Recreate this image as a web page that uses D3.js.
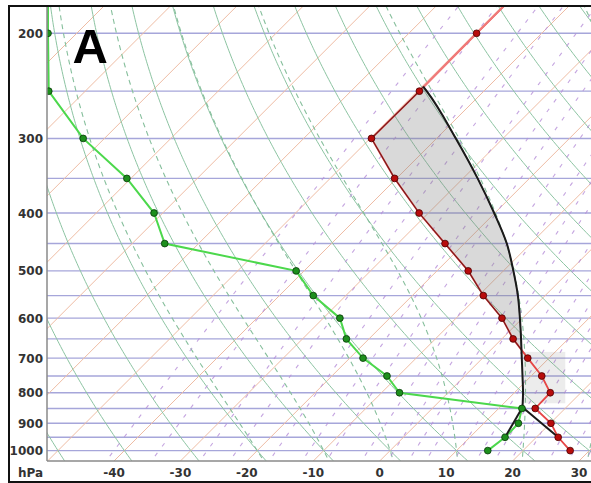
<!DOCTYPE html>
<html>
<head>
<meta charset="utf-8">
<script src="https://cdn.jsdelivr.net/npm/d3@7"></script>
<style>
  body { margin: 0; background: #fff; }
  svg { display: block; }
</style>
</head>
<body>
<div id="chart"></div>
<script>
const width = 591;
const height = 483;

// sounding (hPa, degC)
const pressures   = [150, 200, 250, 300, 350, 400, 450, 500, 550, 600, 650, 700, 750, 800, 850, 900, 950, 1000];
const temperature = [-49.8, -49.8, -49.7, -49.8, -40.3, -31.4, -22.9, -15.3, -9.3, -3.1, 1.7, 6.8, 11.6, 15.4, 15.5, 20.1, 23.3, 27.1];
const dewpoint    = [-126, -114.5, -105.5, -93.2, -80.6, -71.3, -65.1, -41.2, -34.9, -27.5, -23.4, -18.0, -11.7, -7.3, 13.5, 15.2, 15.3, 14.7];

// lifted parcel (950 hPa start, LCL ~846 hPa, EL ~246 hPa)
const parcelPressures = [950, 846, 800, 750, 700, 650, 600, 550, 500, 450, 400, 350, 300, 250, 245.7];
const parcelTemps     = [23.3, 13.4, 11.3, 8.7, 5.9, 2.9, -0.4, -4.1, -8.5, -13.6, -20.1, -27.8, -37.1, -48.6, -49.8];
const parcelDewP = [950, 846];
const parcelDewT = [15.3, 13.4];

// background lines
const isobarLevels   = d3.range(200, 1001, 50);
const pressureLabels = [200, 300, 400, 500, 600, 700, 800, 900, 1000];
const tempTicks      = [-40, -30, -20, -10, 0, 10, 20, 30];
const isotherms      = d3.range(-130, 60, 10);
const dryAdiabats    = d3.range(-60, 220, 10);   // theta, degC
const moistAdiabats  = [-20, -10, 0, 10, 20, 30, 40]; // theta-w, degC
const mixingRatios   = [0.1, 0.2, 0.4, 0.6, 1, 1.5, 2, 3, 4, 5, 6, 8, 10, 12, 14, 16, 20, 24, 28, 32];

const plot = { left: 47, top: 6, right: 600, bottom: 461 };

const svg = d3.select("#chart").append("svg")
    .attr("width", width)
    .attr("height", height);

svg.append("rect").attr("width", width).attr("height", height).attr("fill", "#fff");

const y = d3.scaleLog().domain([200, 1000]).range([33.3, 450.6]);
const x = d3.scaleLinear().domain([-40, 30]).range([114, 579]);
const skewX = (t, p) => x(t) + (plot.bottom - y(p));

svg.append("clipPath").attr("id", "clip")
  .append("rect")
    .attr("x", plot.left).attr("y", plot.top)
    .attr("width", plot.right - plot.left).attr("height", plot.bottom - plot.top);

const g = svg.append("g").attr("clip-path", "url(#clip)");

const line = d3.line().x(d => d[0]).y(d => d[1]);
const smooth = d3.line().x(d => d[0]).y(d => d[1]).curve(d3.curveMonotoneY);

// pressures used for drawing curves
const pGrid = d3.range(Math.log(1060), Math.log(165), -0.01).map(Math.exp);

// isobars
g.selectAll(".isobar").data(isobarLevels).enter().append("line")
    .attr("x1", plot.left).attr("x2", plot.right)
    .attr("y1", d => y(d)).attr("y2", d => y(d))
    .attr("stroke", "#a6a6da").attr("stroke-width", 1.4);

// isotherms
g.selectAll(".isotherm").data(isotherms).enter().append("path")
    .attr("d", t => line([[skewX(t, 1060), y(1060)], [skewX(t, 165), y(165)]]))
    .attr("fill", "none").attr("stroke", "#eebca4").attr("stroke-width", 1);

// dry adiabats
g.selectAll(".dry").data(dryAdiabats).enter().append("path")
    .attr("d", th => line(pGrid.map(p => {
      const t = (th + 273.15) * Math.pow(p / 1000, 0.2857) - 273.15;
      return [skewX(t, p), y(p)];
    })))
    .attr("fill", "none").attr("stroke", "#8cc4a2").attr("stroke-width", 1);

// moist adiabats
function esat(tc) { return 6.112 * Math.exp(17.67 * tc / (tc + 243.5)); }
function moistSlope(p, tk) {
  const es = esat(tk - 273.15);
  const rs = 0.622 * es / (p - es);
  const num = 287.04 * tk + 2.501e6 * rs;
  const den = 1005.7 + 2.501e6 * 2.501e6 * rs * 0.622 / (287.04 * tk * tk);
  return num / den / p;
}
function moistPath(thw) {
  const pts = [];
  let tk = thw + 273.15, p = 1000;
  const dp = -2;
  while (p > 165) {
    pts.push([p, tk]);
    const k1 = moistSlope(p, tk);
    const k2 = moistSlope(p + dp, tk + k1 * dp);
    tk += 0.5 * (k1 + k2) * dp;
    p += dp;
  }
  const low = [];
  tk = thw + 273.15; p = 1000;
  while (p < 1060) {
    const k1 = moistSlope(p, tk);
    const k2 = moistSlope(p + 2, tk + k1 * 2);
    tk += 0.5 * (k1 + k2) * 2;
    p += 2;
    low.push([p, tk]);
  }
  return low.reverse().concat(pts).map(d => [skewX(d[1] - 273.15, d[0]), y(d[0])]);
}
g.selectAll(".moist").data(moistAdiabats).enter().append("path")
    .attr("d", th => line(moistPath(th)))
    .attr("fill", "none").attr("stroke", "#86bf9c").attr("stroke-width", 1.1)
    .attr("stroke-dasharray", "5,4");

// mixing ratio lines
g.selectAll(".mix").data(mixingRatios).enter().append("path")
    .attr("d", w => line(pGrid.map(p => {
      const e = p * w / (622 + w);
      const l = Math.log(e / 6.112);
      const t = 243.5 * l / (17.67 - l);
      return [skewX(t, p), y(p)];
    })))
    .attr("fill", "none").attr("stroke", "#b68ed8").attr("stroke-opacity", 0.8)
    .attr("stroke-width", 1.1)
    .attr("stroke-dasharray", "4,8");

// environment temperature at any pressure (log-p interpolation)
const logP = pressures.map(Math.log);
function envAt(p) {
  const lp = Math.log(p);
  for (let i = 0; i < logP.length - 1; i++) {
    if (lp >= logP[i] && lp <= logP[i + 1]) {
      const f = (lp - logP[i]) / (logP[i + 1] - logP[i]);
      return temperature[i] + f * (temperature[i + 1] - temperature[i]);
    }
  }
  return temperature[temperature.length - 1];
}

// LFC: where parcel becomes warmer than environment going up from LCL
let lfcP = parcelPressures[1];
for (let i = 1; i < parcelPressures.length - 1; i++) {
  const d0 = parcelTemps[i] - envAt(parcelPressures[i]);
  const d1 = parcelTemps[i + 1] - envAt(parcelPressures[i + 1]);
  if (d0 < 0 && d1 >= 0) {
    const f = -d0 / (d1 - d0);
    lfcP = Math.exp(Math.log(parcelPressures[i]) + f * (Math.log(parcelPressures[i + 1]) - Math.log(parcelPressures[i])));
    break;
  }
}
const elP = parcelPressures[parcelPressures.length - 1];
const lclP = parcelPressures[1];

// CIN shading (soft box)
const cinEnv = pressures.filter(p => p < lclP && p > lfcP).map(p => skewX(envAt(p), p));
const cinParcel = parcelPressures.filter(p => p <= lclP && p > lfcP).map(p => skewX(parcelTemps[parcelPressures.indexOf(p)], p));
g.append("rect")
    .attr("x", d3.min(cinParcel))
    .attr("y", y(lfcP) + 2)
    .attr("width", d3.max(cinEnv) + 15 - d3.min(cinParcel))
    .attr("height", y(lclP) - 4 - y(lfcP) - 2)
    .attr("fill", "#808080").attr("fill-opacity", 0.15);

// CAPE polygon: smooth parcel side, straight environment side
const capeParcel = [[skewX(envAt(lfcP), lfcP), y(lfcP)]];
parcelPressures.forEach((p, i) => {
  if (p < lfcP) capeParcel.push([skewX(parcelTemps[i], p), y(p)]);
});
const capeEnv = pressures.filter(p => p > elP && p < lfcP).sort((a, b) => a - b)
  .map(p => [skewX(envAt(p), p), y(p)]);
const capeD = smooth(capeParcel) + capeEnv.map(d => "L" + d[0] + "," + d[1]).join("") + "Z";

g.append("path")
    .attr("d", capeD)
    .attr("fill", "#808080").attr("fill-opacity", 0.3);

// environment temperature: pale above the EL, stronger below
const tempPts = pressures.map((p, i) => [skewX(temperature[i], p), y(p)]);
g.append("path").attr("d", line(tempPts))
    .attr("fill", "none").attr("stroke", "#e64646").attr("stroke-width", 1.8);
g.append("path").attr("d", line(tempPts.filter((d, i) => pressures[i] <= 250)))
    .attr("fill", "none").attr("stroke", "#f07a7a").attr("stroke-width", 2);

g.append("path")
    .attr("d", capeD)
    .attr("fill", "none").attr("stroke", "#2a0000").attr("stroke-opacity", 0.6).attr("stroke-width", 1.1);

// dewpoint (clamped to the left edge)
const dewPts = pressures.map((p, i) => [Math.max(plot.left + 1, skewX(dewpoint[i], p)), y(p)]);
g.append("path").attr("d", line(dewPts))
    .attr("fill", "none").attr("stroke", "#4cd84c").attr("stroke-width", 2);

// parcel path: dry leg straight, moist leg smooth
const parcelPts = parcelPressures.map((p, i) => [skewX(parcelTemps[i], p), y(p)]);
g.append("path").attr("d", line(parcelPts.slice(0, 2)))
    .attr("fill", "none").attr("stroke", "#1a1a1a").attr("stroke-width", 2);
g.append("path").attr("d", smooth(parcelPts.slice(1)))
    .attr("fill", "none").attr("stroke", "#1a1a1a").attr("stroke-width", 2);
g.append("path")
    .attr("d", line(parcelDewP.map((p, i) => [skewX(parcelDewT[i], p), y(p)])))
    .attr("fill", "none").attr("stroke", "#1a1a1a").attr("stroke-width", 2);

// points
g.selectAll(".tdot").data(tempPts).enter().append("circle")
    .attr("cx", d => d[0]).attr("cy", d => d[1]).attr("r", 3.4)
    .attr("fill", "#b80c0c").attr("stroke", "#4a0000").attr("stroke-width", 0.8);
g.selectAll(".ddot").data(dewPts).enter().append("circle")
    .attr("cx", d => d[0]).attr("cy", d => d[1]).attr("r", 3.4)
    .attr("fill", "#1d8f1d").attr("stroke", "#083808").attr("stroke-width", 0.8);

// plot border
svg.append("line").attr("x1", plot.left).attr("x2", plot.left)
    .attr("y1", plot.top).attr("y2", plot.bottom)
    .attr("stroke", "#8a8a8a").attr("stroke-width", 1.5);
svg.append("line").attr("x1", plot.left).attr("x2", width)
    .attr("y1", plot.bottom).attr("y2", plot.bottom)
    .attr("stroke", "#8a8a8a").attr("stroke-width", 1.5);

// labels
const labelFont = "'DejaVu Sans', sans-serif";
svg.selectAll(".plabel").data(pressureLabels).enter().append("text")
    .attr("x", 43).attr("y", d => y(d) + 4.5)
    .attr("text-anchor", "end")
    .attr("font-family", labelFont).attr("font-weight", "bold").attr("font-size", 12)
    .attr("fill", "#333").text(d => d);

svg.append("text").attr("x", 43).attr("y", 476.5)
    .attr("text-anchor", "end")
    .attr("font-family", labelFont).attr("font-weight", "bold").attr("font-size", 12)
    .attr("fill", "#333").text("hPa");

svg.selectAll(".tlabel").data(tempTicks).enter().append("text")
    .attr("x", d => x(d)).attr("y", 476.5)
    .attr("text-anchor", "middle")
    .attr("font-family", labelFont).attr("font-weight", "bold").attr("font-size", 12)
    .attr("fill", "#333").text(d => d);

svg.append("text").attr("x", 72.5).attr("y", 63)
    .attr("font-family", "'Liberation Sans', Arial, sans-serif")
    .attr("font-weight", "bold").attr("font-size", 49)
    .attr("fill", "#000").text("A");

// outer frame
svg.append("rect").attr("x", 9).attr("y", 6)
    .attr("width", 620).attr("height", 476)
    .attr("fill", "none").attr("stroke", "#111").attr("stroke-width", 2);
</script>
</body>
</html>
